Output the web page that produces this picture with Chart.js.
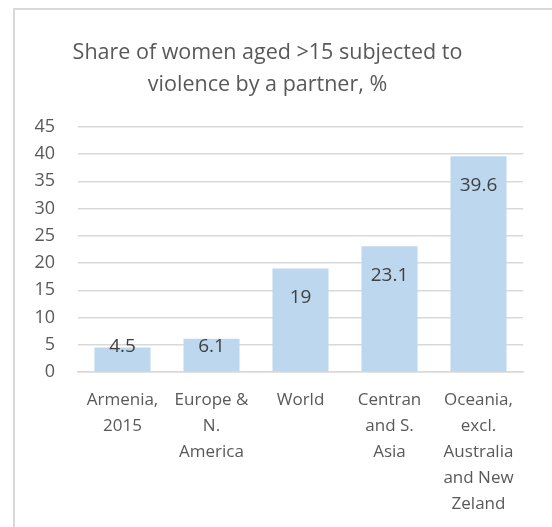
<!DOCTYPE html>
<html>
<head>
<meta charset="utf-8">
<script src="https://cdn.jsdelivr.net/npm/chart.js@4"></script>
<style>
  html, body { margin: 0; padding: 0; background: #fff; }
  #frame {
    position: absolute; left: 13px; top: 8px;
    width: 545px; height: 530px;
    border: 2px solid #d9d9d9; box-sizing: border-box;
  }
  #wrap { position: absolute; left: 0; top: 0; width: 552px; height: 527px; }
</style>
</head>
<body>
<div id="frame"></div>
<div id="wrap"><canvas id="violenceChart" width="552" height="527"></canvas></div>
<script>
// --- data ---
const regions = [
    ['Armenia,', '2015'],
    ['Europe &', 'N.', 'America'],
    ['World'],
    ['Centran', 'and S.', 'Asia'],
    ['Oceania,', 'excl.', 'Australia', 'and New', 'Zeland']
];
const shareValues = [4.5, 6.1, 19, 23.1, 39.6];
const yTicks = [0, 5, 10, 15, 20, 25, 30, 35, 40, 45];

const TEXT_COLOR = '#595959';
const FONT = '"Open Sans", "Liberation Sans", sans-serif';

// value labels just inside the top of each bar
const valueLabels = {
    id: 'valueLabels',
    afterDatasetsDraw(chart) {
        const ctx = chart.ctx;
        const base = chart.scales.y.getPixelForValue(0);
        chart.getDatasetMeta(0).data.forEach((bar, i) => {
            const y = Math.min(bar.y + 29, base - 25);
            ctx.save();
            ctx.font = '19px ' + FONT;
            ctx.fillStyle = '#404040';
            ctx.textAlign = 'center';
            ctx.textBaseline = 'middle';
            ctx.fillText(String(shareValues[i]), bar.x, y);
            ctx.restore();
        });
    }
};

new Chart(document.getElementById('violenceChart'), {
    type: 'bar',
    data: {
        labels: regions,
        datasets: [{
            data: shareValues,
            backgroundColor: '#bdd7ee',
            borderWidth: 0,
            barPercentage: 0.63,
            categoryPercentage: 1
        }]
    },
    options: {
        responsive: false,
        animation: false,
        layout: { padding: { left: 12, right: 29, top: 0, bottom: 0 } },
        plugins: {
            legend: { display: false },
            tooltip: { enabled: false },
            title: {
                display: true,
                text: ['Share of women aged >15 subjected to', 'violence by a partner, %'],
                color: TEXT_COLOR,
                font: { family: FONT, size: 21.5, weight: 'normal', lineHeight: 1.53 },
                padding: { top: 36, bottom: 25 }
            }
        },
        scales: {
            y: {
                min: 0,
                max: 45,
                afterFit: s => { s.width = 66; },
                afterBuildTicks: s => { s.ticks = yTicks.map(v => ({ value: v })); },
                border: { display: false },
                grid: { color: '#d9d9d9', lineWidth: 1.5, drawTicks: false },
                ticks: {
                    color: TEXT_COLOR,
                    padding: 23,
                    font: { family: FONT, size: 18 }
                }
            },
            x: {
                afterFit: s => { s.height = 155; },
                border: { color: '#d9d9d9', width: 1.5 },
                grid: { display: false, drawTicks: false },
                ticks: {
                    color: TEXT_COLOR,
                    padding: 15,
                    maxRotation: 0,
                    autoSkip: false,
                    font: { family: FONT, size: 17, lineHeight: 1.53 }
                }
            }
        }
    },
    plugins: [valueLabels]
});
</script>
</body>
</html>
